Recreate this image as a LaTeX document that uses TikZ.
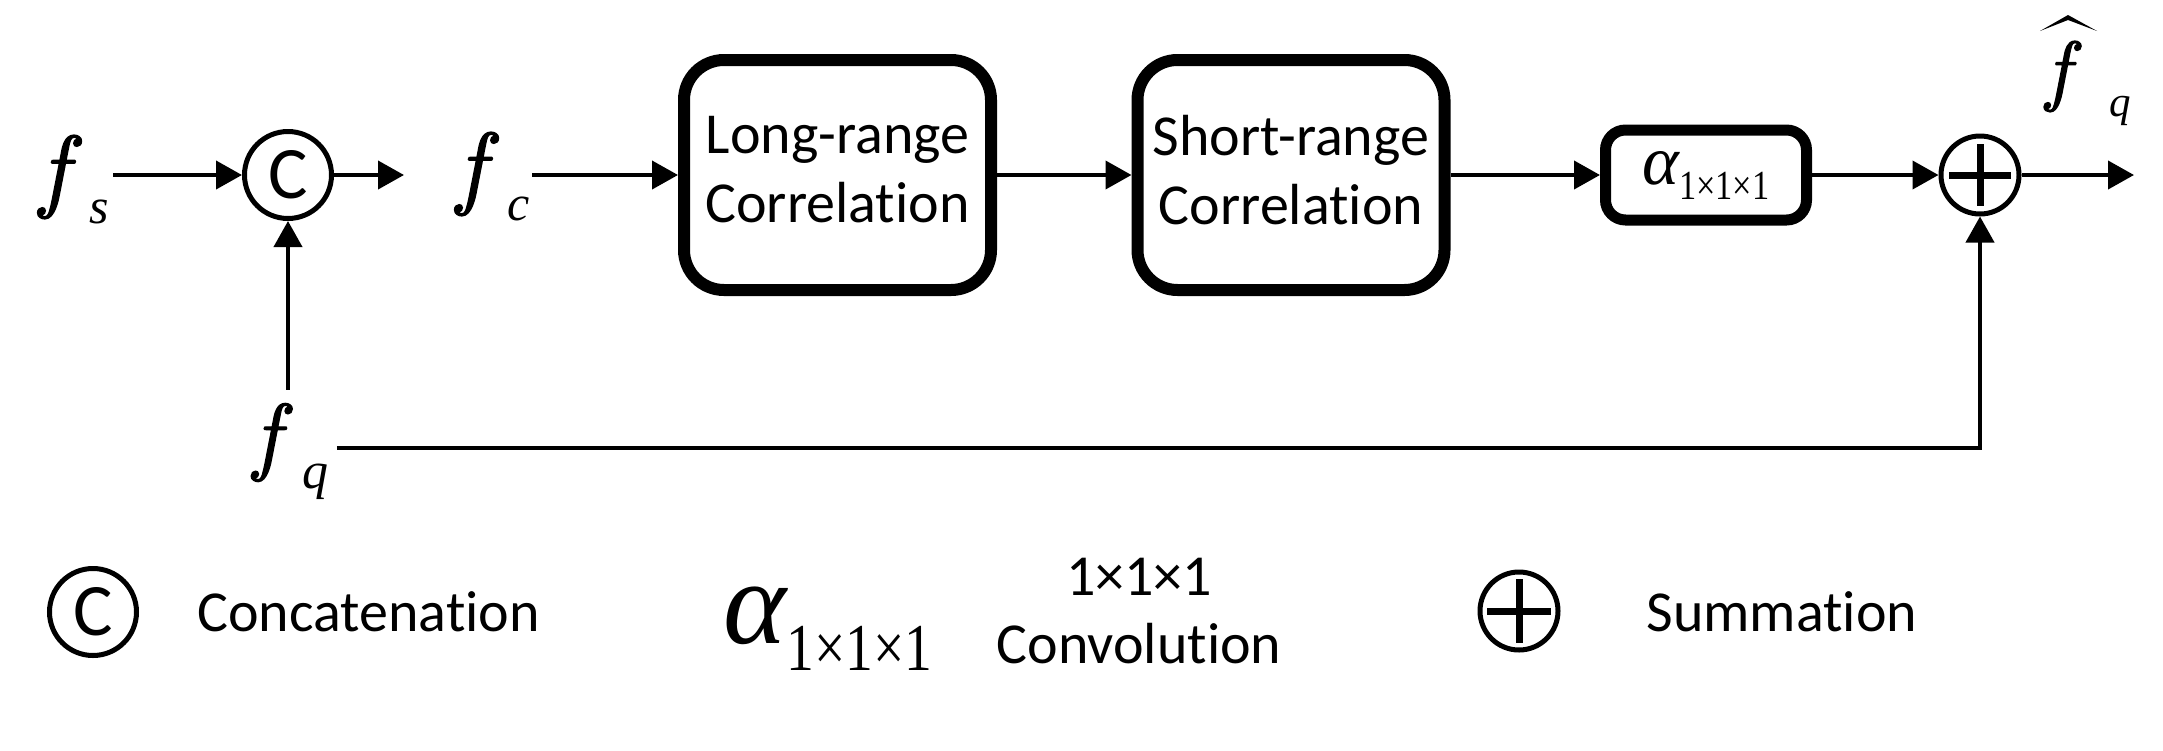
\documentclass[tikz,border=0pt]{standalone}
\usepackage{fontspec}
\setmainfont{Carlito}[Ligatures=NoCommon]
\newfontfamily\tms{Liberation Serif}
\newfontfamily\tmsi{Liberation Serif Italic}
\newfontfamily\lmri{lmroman10-italic.otf}[FakeBold=1.6]
\usepackage{graphicx}
\usetikzlibrary{arrows.meta}
\newcommand{\ff}[1]{{\lmri\fontsize{#1}{#1}\selectfont f}}
\tikzset{
  arr/.style={line width=2pt, -{Triangle[length=13pt,width=14pt]}},
  blk/.style={draw, line width=6pt, rounded corners=20pt, minimum width=153.5pt, minimum height=115pt, align=center, inner sep=0pt, text depth=5.5pt, font=\fontsize{29}{34.5}\selectfont},
  abox/.style={draw, line width=5.5pt, rounded corners=10pt, minimum width=100.5pt, minimum height=45pt, inner sep=0pt},
  cc/.style={draw, circle, line width=2.5pt, minimum size=43.5pt, inner sep=0pt, font=\fontsize{37}{37}\selectfont},
  sm/.style={draw, circle, line width=2.5pt, minimum size=39pt, inner sep=0pt},
  fl/.style={inner sep=0pt, anchor=base west, font=\tmsi},
  lbl/.style={inner sep=0pt, font=\fontsize{29}{34}\selectfont},
  bar/.style={line width=3.5pt},
}
\begin{document}
\begin{tikzpicture}[x=0.5pt,y=-0.5pt]
\useasboundingbox (0,0) rectangle (2163,750);
% main row
\node[fl] (fs) at (39.5,200) {\ff{46}\kern10.5pt\raisebox{-11.5pt}{\fontsize{25}{25}\selectfont s}};
\node[cc] (C) at (288,175) {C};
\coordinate (cout) at (404,175);
\node[fl] (fc) at (456.5,197) {\ff{46}\kern11.25pt\raisebox{-11.5pt}{\fontsize{25}{25}\selectfont c}};
\node[blk] (lr) at (837.5,175) {Long-range\\Correlation};
\node[blk] (sr) at (1291,175) {Short-range\\Correlation};
\node[abox] (al) at (1706,175) {{\tmsi\fontsize{35}{35}\selectfont α}\raisebox{-7.5pt}{\scalebox{0.83}[1]{\tms\fontsize{20.7}{20.7}\selectfont 1×1×1}}};
\node[sm] (sum) at (1980,175) {};
\draw[bar] (sum.center) ++(-31,0) -- ++(62,0) (sum.center) ++(0,-31) -- ++(0,62);
\coordinate (outq) at (2134,175);
\node[fl] (fq) at (253,464) {\ff{43}\kern11.35pt\raisebox{-12pt}{\fontsize{26}{26}\selectfont q}};
\node[fl] (fh) at (2045.5,96) {\ff{39}\kern20pt\raisebox{-10pt}{\fontsize{21.5}{21.5}\selectfont q}};
\fill (2040,31) -- (2068,15) -- (2097,31) -- (2068,20) -- cycle;
% connectors
\draw[arr, shorten <=2pt] (fs.east |- C.west) -- (C.west);
\draw[arr] (C.east) -- (cout);
\draw[arr, shorten <=1pt] (fc.east |- lr.west) -- (lr.west);
\draw[arr] (lr.east) -- (sr.west);
\draw[arr] (sr.east) -- (al.west);
\draw[arr] (al.east) -- (sum.west);
\draw[arr] (sum.east) -- (outq);
\draw[arr] ([yshift=6.5pt]fq.north -| C.south) -- (C.south);
\draw[arr] ([xshift=4pt,yshift=8pt]fq.base east) -| (sum.south);
% legend
\node[cc] (lc) at (93,612) {C};
\node[lbl, anchor=base west] (lct) at (197,631) {Concatenation};
\node[fl] (la) at (723,643) {{\fontsize{60}{60}\selectfont α}\raisebox{-13.5pt}{\scalebox{0.83}[1]{\tms\fontsize{33.5}{33.5}\selectfont 1×1×1}}};
\node[lbl, align=center] (lconv) at (1139,611) {1×1×1\\Convolution};
\node[sm] (lsum) at (1519,611) {};
\draw[bar] (lsum.center) ++(-32,0) -- ++(64,0) (lsum.center) ++(0,-32) -- ++(0,64);
\node[lbl, anchor=base west] (lsumt) at (1646,631) {Summation};
\end{tikzpicture}
\end{document}
